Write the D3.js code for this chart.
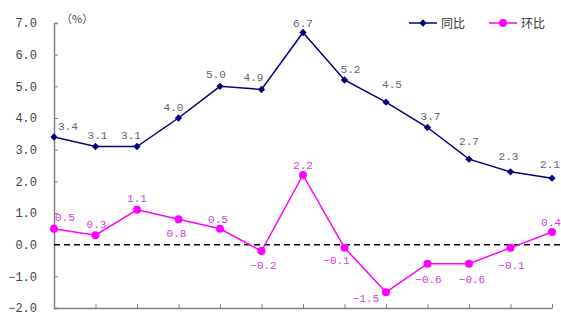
<!DOCTYPE html>
<html>
<head>
<meta charset="utf-8">
<script src="https://cdn.jsdelivr.net/npm/d3@7"></script>
<style>
	body { margin: 0; background: #fff; }
	svg { display: block; }
</style>
</head>
<body>
<div class="container"></div>
<script>
// 13 periods, labels cut off in the original
var periods = ['1', '2', '3', '4', '5', '6', '7', '8', '9', '10', '11', '12', '13'];
var yoy = [3.4, 3.1, 3.1, 4.0, 5.0, 4.9, 6.7, 5.2, 4.5, 3.7, 2.7, 2.3, 2.1];
var mom = [0.5, 0.3, 1.1, 0.8, 0.5, -0.2, 2.2, -0.1, -1.5, -0.6, -0.6, -0.1, 0.4];
var yTicks = [-2, -1, 0, 1, 2, 3, 4, 5, 6, 7];
var seriesNames = ['同比', '环比'];

var width = 561,
	height = 316;

var svg = d3
	.select('.container')
	.append('svg')
	.attr('width', width)
	.attr('height', height);

var x = d3.scalePoint().domain(periods).range([54, 552]);
var y = d3.scaleLinear().domain([-2, 7]).range([308, 23]);

var monoFont = '"Liberation Mono", "DejaVu Sans Mono", monospace';
var fmt = d3.format('.1f');

// y axis
var yAxis = svg
	.append('g')
	.attr('transform', 'translate(54,0)')
	.call(
		d3
			.axisRight(y)
			.tickValues(yTicks)
			.tickSize(4)
			.tickFormat('')
	);
yAxis.select('.domain').attr('stroke', '#808080').attr('stroke-width', 1.5);
yAxis.selectAll('.tick line').attr('stroke', '#808080').attr('stroke-width', 1);

svg
	.append('g')
	.selectAll('text')
	.data(yTicks)
	.enter()
	.append('text')
	.attr('x', 37)
	.attr('y', function(d) {
		return y(d);
	})
	.attr('dy', '0.35em')
	.attr('text-anchor', 'end')
	.attr('font-family', monoFont)
	.attr('font-size', 12)
	.attr('fill', '#444')
	.text(function(d) {
		return fmt(d);
	});

// x axis
var xAxis = svg
	.append('g')
	.attr('transform', 'translate(0,308)')
	.call(
		d3
			.axisTop(x)
			.tickSize(4)
			.tickSizeOuter(0)
			.tickFormat('')
	);
xAxis.select('.domain').attr('stroke', '#808080').attr('stroke-width', 1.5);
xAxis.selectAll('.tick line').attr('stroke', '#808080').attr('stroke-width', 1);

svg
	.append('text')
	.attr('x', 61)
	.attr('y', 23)
	.attr('font-family', '"Noto Sans CJK SC", sans-serif')
	.attr('font-size', 11)
	.attr('fill', '#444')
	.text('（%）');

// zero line
svg
	.append('line')
	.attr('x1', 54)
	.attr('x2', width)
	.attr('y1', y(0))
	.attr('y2', y(0))
	.attr('stroke', '#000')
	.attr('stroke-width', 1.5)
	.attr('stroke-dasharray', '6,4');

var line = d3
	.line()
	.x(function(d, i) {
		return x(periods[i]);
	})
	.y(function(d) {
		return y(d);
	});

var navy = '#000080',
	magenta = '#ff00ff';

// label offsets [dx, baseline dy] per point
var yoyOffsets = [[14, -7], [2, -8], [-6, -8], [-5, -7], [-4, -8], [-8, -9], [0, -6], [6, -7], [6, -14], [3, -8], [0, -14], [-2, -12], [-2, -10]];
var momOffsets = [[11, -8], [1, -7], [0, -8], [-2, 18], [-2, -6], [2, 18], [0, -6], [-8, 16], [-20, 10], [1, 19], [3, 19], [1, 21], [-1, -6]];

var diamond = d3.symbol().type(d3.symbolDiamond2).size(34);

// 同比
svg
	.append('path')
	.datum(yoy)
	.attr('d', line)
	.attr('fill', 'none')
	.attr('stroke', navy)
	.attr('stroke-width', 1.5);

svg
	.append('g')
	.selectAll('path')
	.data(yoy)
	.enter()
	.append('path')
	.attr('d', diamond)
	.attr('transform', function(d, i) {
		return 'translate(' + x(periods[i]) + ',' + y(d) + ')';
	})
	.attr('fill', navy);

svg
	.append('g')
	.selectAll('text')
	.data(yoy)
	.enter()
	.append('text')
	.attr('x', function(d, i) {
		return x(periods[i]) + yoyOffsets[i][0];
	})
	.attr('y', function(d, i) {
		return y(d) + yoyOffsets[i][1];
	})
	.attr('text-anchor', 'middle')
	.attr('font-family', monoFont)
	.attr('font-size', 11)
	.attr('fill', '#5a6478')
	.text(function(d) {
		return fmt(d);
	});

// 环比
svg
	.append('path')
	.datum(mom)
	.attr('d', line)
	.attr('fill', 'none')
	.attr('stroke', magenta)
	.attr('stroke-width', 1.5);

svg
	.append('g')
	.selectAll('circle')
	.data(mom)
	.enter()
	.append('circle')
	.attr('cx', function(d, i) {
		return x(periods[i]);
	})
	.attr('cy', function(d) {
		return y(d);
	})
	.attr('r', 4)
	.attr('fill', magenta);

svg
	.append('g')
	.selectAll('text')
	.data(mom)
	.enter()
	.append('text')
	.attr('x', function(d, i) {
		return x(periods[i]) + momOffsets[i][0];
	})
	.attr('y', function(d, i) {
		return y(d) + momOffsets[i][1];
	})
	.attr('text-anchor', 'middle')
	.attr('font-family', monoFont)
	.attr('font-size', 11)
	.attr('fill', '#d040d8')
	.text(function(d) {
		return fmt(d);
	});

// legend
var legend = svg
	.append('g')
	.selectAll('g')
	.data(seriesNames)
	.enter()
	.append('g')
	.attr('transform', function(d, i) {
		return 'translate(' + (409 + i * 80) + ',23)';
	});

legend
	.append('line')
	.attr('x1', 0)
	.attr('x2', 28)
	.attr('stroke', function(d, i) {
		return i === 0 ? navy : magenta;
	})
	.attr('stroke-width', 1.5);

legend.each(function(d, i) {
	var g = d3.select(this);
	if (i === 0) {
		g.append('path')
			.attr('d', diamond)
			.attr('transform', 'translate(14,0)')
			.attr('fill', navy);
	} else {
		g.append('circle')
			.attr('cx', 14)
			.attr('r', 4)
			.attr('fill', magenta);
	}
});

legend
	.append('text')
	.attr('x', 32)
	.attr('dy', '0.38em')
	.attr('font-family', '"Noto Sans CJK SC", sans-serif')
	.attr('font-size', 12)
	.attr('fill', '#333')
	.text(function(d) {
		return d;
	});
</script>
</body>
</html>
